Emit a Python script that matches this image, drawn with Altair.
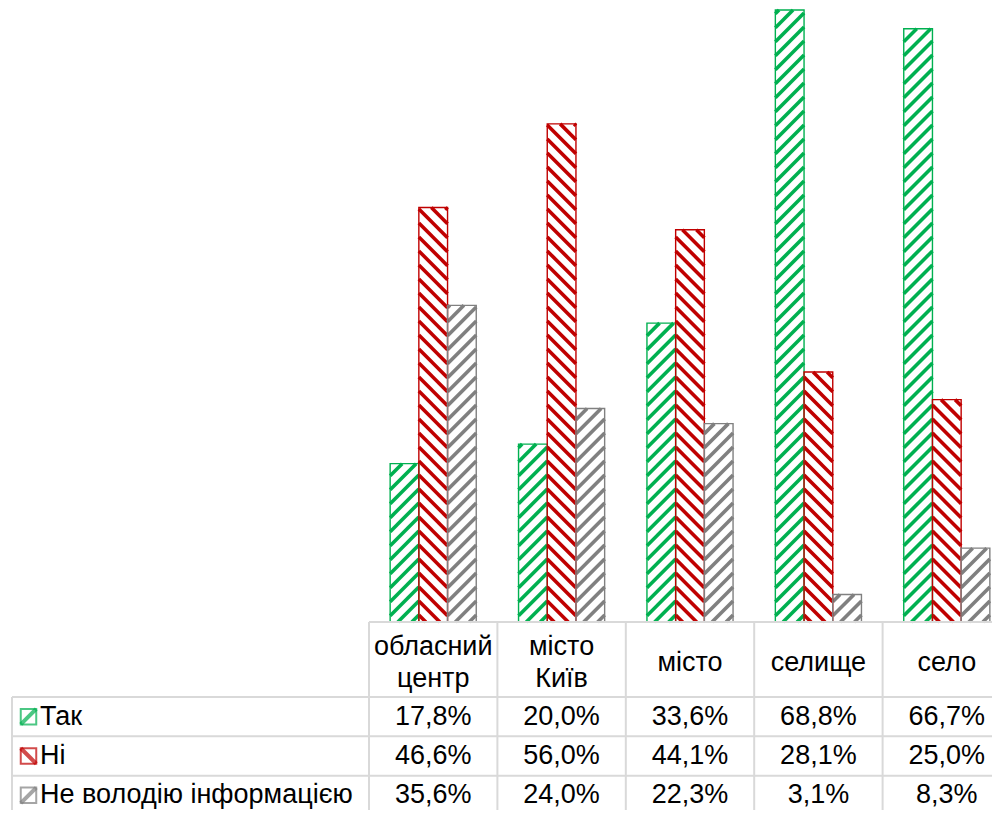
import altair as alt
import pandas as pd

# ---------------- data ----------------
categories = ["обласний центр", "місто Київ", "місто", "селище", "село"]
series = ["Так", "Ні", "Не володію інформацією"]
tak = [17.8, 20.0, 33.6, 68.8, 66.7]
ni = [46.6, 56.0, 44.1, 28.1, 25.0]
ne_volodiyu = [35.6, 24.0, 22.3, 3.1, 8.3]
series_values = [tak, ni, ne_volodiyu]
colors = ["#00B050", "#C00000", "#808080"]
stripe_dirs = ["up", "down", "up"]

# ---------------- layout / style constants ----------------
W, H = 984, 802
X0, COL = 361, 128.4          # first column edge, column width (px)
BASE_Y = 614                  # baseline of bars / top of data table (px)
PX_PER_PCT = 8.895
Y_MAX = 70
BAR_PX = 28.7
STRIPE_STEP = 14.0
GRID = "#D9D9D9"
FONT = "Liberation Sans"
FS = 27
LINE_H = 32

n = len(categories)
x_scale = alt.Scale(domain=[0, n], range=[X0, X0 + COL * n], zero=False, nice=False)
y_scale = alt.Scale(domain=[0, Y_MAX], range=[BASE_Y, BASE_Y - Y_MAX * PX_PER_PCT],
                    zero=False, nice=False)
row_scale = alt.Scale(domain=series, range=[689, 807], paddingInner=0, paddingOuter=0)
head_scale = alt.Scale(domain=[1, 2], range=[655, 655 - LINE_H / 2], zero=False, nice=False)
color_scale = alt.Scale(domain=series, range=colors)

# ---------------- derived tables ----------------
bar_rows, stripe_rows, table_rows = [], [], []
bw = BAR_PX / COL
for i, cat in enumerate(categories):
    for j, s in enumerate(series):
        v = series_values[j][i]
        x0 = i + 0.5 + (j - 1.5) * bw
        bar_rows.append({"series": s, "cat": cat, "value": v, "x0": x0, "x1": x0 + bw})
        lab = f"{v:.1f}".replace(".", ",") + "%"
        table_rows.append({"series": s, "cat": cat, "label": lab, "xc": i + 0.5})
        Wp, Hp = BAR_PX, v * PX_PER_PCT
        if stripe_dirs[j] == "down":
            c = STRIPE_STEP / 2
            while c < Hp + Wp:
                ulo, uhi = max(0.0, c - Hp), min(Wp, c)
                if uhi - ulo > 0.3:
                    stripe_rows.append({"series": s,
                                        "sx": x0 + ulo / COL, "sy": (c - ulo) / PX_PER_PCT,
                                        "sx2": x0 + uhi / COL, "sy2": (c - uhi) / PX_PER_PCT})
                c += STRIPE_STEP
        else:
            c = -Wp + STRIPE_STEP / 2
            while c < Hp:
                ulo, uhi = max(0.0, -c), min(Wp, Hp - c)
                if uhi - ulo > 0.3:
                    stripe_rows.append({"series": s,
                                        "sx": x0 + ulo / COL, "sy": (ulo + c) / PX_PER_PCT,
                                        "sx2": x0 + uhi / COL, "sy2": (uhi + c) / PX_PER_PCT})
                c += STRIPE_STEP

bars_df = pd.DataFrame(bar_rows)
stripes_df = pd.DataFrame(stripe_rows)
table_df = pd.DataFrame(table_rows)
cats_df = pd.DataFrame({"cat": categories,
                        "xc": [i + 0.5 for i in range(n)],
                        "n_lines": [len(c.split(" ")) for c in categories]})
bounds_df = pd.DataFrame({"xb": list(range(n + 1))})
series_df = pd.DataFrame({"series": series})

# ---------------- bars ----------------
stripes = alt.Chart(stripes_df).mark_rule(strokeWidth=3.6, strokeCap="butt").encode(
    x=alt.X("sx:Q", scale=x_scale, axis=None),
    x2="sx2:Q",
    y=alt.Y("sy:Q", scale=y_scale, axis=None),
    y2="sy2:Q",
    color=alt.Color("series:N", scale=color_scale, legend=None),
)

outlines = alt.Chart(bars_df).mark_rect(fillOpacity=0, strokeWidth=1.4).encode(
    x=alt.X("x0:Q", scale=x_scale, axis=None),
    x2="x1:Q",
    y=alt.Y("value:Q", scale=y_scale, axis=None),
    y2=alt.datum(0),
    stroke=alt.Stroke("series:N", scale=color_scale, legend=None),
)

top = alt.layer(stripes, outlines)

# ---------------- data table ----------------
top_line = alt.Chart(series_df).mark_rule(color=GRID, strokeWidth=2).encode(
    x=alt.value(X0), x2=alt.value(W), y=alt.value(BASE_Y)
)
vlines = alt.Chart(bounds_df).mark_rule(color=GRID, strokeWidth=2).encode(
    x=alt.X("xb:Q", scale=x_scale, axis=None), y=alt.value(BASE_Y), y2=alt.value(H)
)
left_line = alt.Chart(series_df).mark_rule(color=GRID, strokeWidth=2).encode(
    x=alt.value(4), y=alt.value(689), y2=alt.value(H)
)
row_lines = alt.Chart(series_df).mark_rule(color=GRID, strokeWidth=2).encode(
    x=alt.value(4), x2=alt.value(W),
    y=alt.Y("series:N", scale=row_scale, bandPosition=0, axis=None),
)
cells = alt.Chart(table_df).mark_text(
    font=FONT, fontSize=FS, align="center", baseline="middle", color="black"
).encode(
    x=alt.X("xc:Q", scale=x_scale, axis=None),
    y=alt.Y("series:N", scale=row_scale, axis=None),
    text="label:N",
)
legend_text = alt.Chart(series_df).mark_text(
    font=FONT, fontSize=FS, align="left", baseline="middle", color="black"
).encode(
    x=alt.value(32),
    y=alt.Y("series:N", scale=row_scale, axis=None),
    text="series:N",
)
swatch_box = alt.Chart(series_df).mark_square(filled=False, size=240, strokeWidth=2).encode(
    x=alt.value(20.5),
    y=alt.Y("series:N", scale=row_scale, axis=None),
    color=alt.Color("series:N", scale=color_scale, legend=None),
)
swatch_diag = alt.Chart(series_df).mark_point(filled=False, size=240, strokeWidth=4).encode(
    x=alt.value(20.5),
    y=alt.Y("series:N", scale=row_scale, axis=None),
    color=alt.Color("series:N", scale=color_scale, legend=None),
    shape=alt.Shape("series:N", legend=None,
                    scale=alt.Scale(domain=series,
                                    range=["M-1,1L1,-1", "M-1,-1L1,1", "M-1,1L1,-1"])),
)

table = alt.layer(top_line, vlines, left_line, row_lines, cells,
                  legend_text, swatch_box, swatch_diag)

header = alt.Chart(cats_df).mark_text(
    font=FONT, fontSize=FS, lineBreak=" ", lineHeight=LINE_H, align="center",
    baseline="middle", color="black"
).encode(
    x=alt.X("xc:Q", scale=x_scale, axis=None),
    y=alt.Y("n_lines:Q", scale=head_scale, axis=None),
    text="cat:N",
)

chart = (
    alt.layer(top, table, header)
    .resolve_scale(y="independent")
    .properties(width=W, height=H, padding=0,
                autosize=alt.AutoSizeParams(type="none"))
    .configure(background="white")
    .configure_view(strokeWidth=0)
)

chart.save("out.html", embed_options={"renderer": "svg", "actions": False})
